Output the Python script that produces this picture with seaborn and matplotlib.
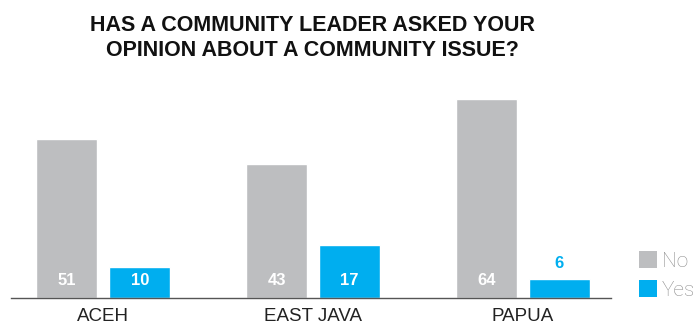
import matplotlib
matplotlib.use("Agg")
import matplotlib.pyplot as plt
from matplotlib.patches import Patch
import seaborn as sns
import pandas as pd

# Survey results (percent of respondents)
regions = ["ACEH", "EAST JAVA", "PAPUA"]
answers = ["No", "Yes"]
no_values = [51, 43, 64]
yes_values = [10, 17, 6]

title = "HAS A COMMUNITY LEADER ASKED YOUR\nOPINION ABOUT A COMMUNITY ISSUE?"
palette = {"No": "#BDBEC0", "Yes": "#00AEEF"}

df = pd.DataFrame({
    "region": regions * 2,
    "answer": ["No"] * len(regions) + ["Yes"] * len(regions),
    "value": no_values + yes_values,
})

sns.set_theme(style="white")
plt.rcParams["font.family"] = ["Liberation Sans", "DejaVu Sans"]

fig = plt.figure(figsize=(6.96, 3.25), dpi=100)
ax = fig.add_axes([11 / 696, 27 / 325, 600 / 696, 218 / 325])

sns.barplot(data=df, x="region", y="value", hue="answer", order=regions,
            hue_order=answers, palette=palette, width=0.695, gap=0.167,
            saturation=1, legend=False, ax=ax)

ax.set_ylim(0, 70)
ax.set_xlim(-0.44, 2.42)
ax.set_xlabel("")
ax.set_ylabel("")
ax.set_yticks([])
for side in ("top", "left", "right"):
    ax.spines[side].set_visible(False)
ax.spines["bottom"].set_color("#555555")
ax.spines["bottom"].set_linewidth(1.0)
ax.tick_params(axis="x", length=0, pad=7, labelsize=13.5, labelcolor="#222222")

# Value labels: inside bars near the base, or above short bars
for container in ax.containers:
    for bar in container:
        h = bar.get_height()
        cx = bar.get_x() + bar.get_width() / 2
        if h >= 9:
            ax.text(cx, 5.5, f"{h:.0f}", ha="center", va="center",
                    color="white", fontsize=12, fontweight="bold")
        else:
            ax.text(cx, h + 5.2, f"{h:.0f}", ha="center", va="center",
                    color=palette["Yes"], fontsize=12, fontweight="bold")

fig.text(312 / 696, 1 - 38 / 325, title, ha="center", va="center",
         fontsize=15.5, fontweight="bold", color="#111111", linespacing=1.25)

handles = [Patch(facecolor=palette[a], edgecolor="none", label=a) for a in answers]
leg = fig.legend(handles=handles, loc="upper left",
                 bbox_to_anchor=(639 / 696, 1 - 251 / 325), frameon=False,
                 prop={"family": "Roboto", "weight": "light", "size": 15},
                 labelcolor="#8F8F8F", handlelength=0.88, handleheight=0.88,
                 handletextpad=0.22, labelspacing=0.45, borderaxespad=0,
                 borderpad=0)

fig.savefig("out.png", dpi=100)
